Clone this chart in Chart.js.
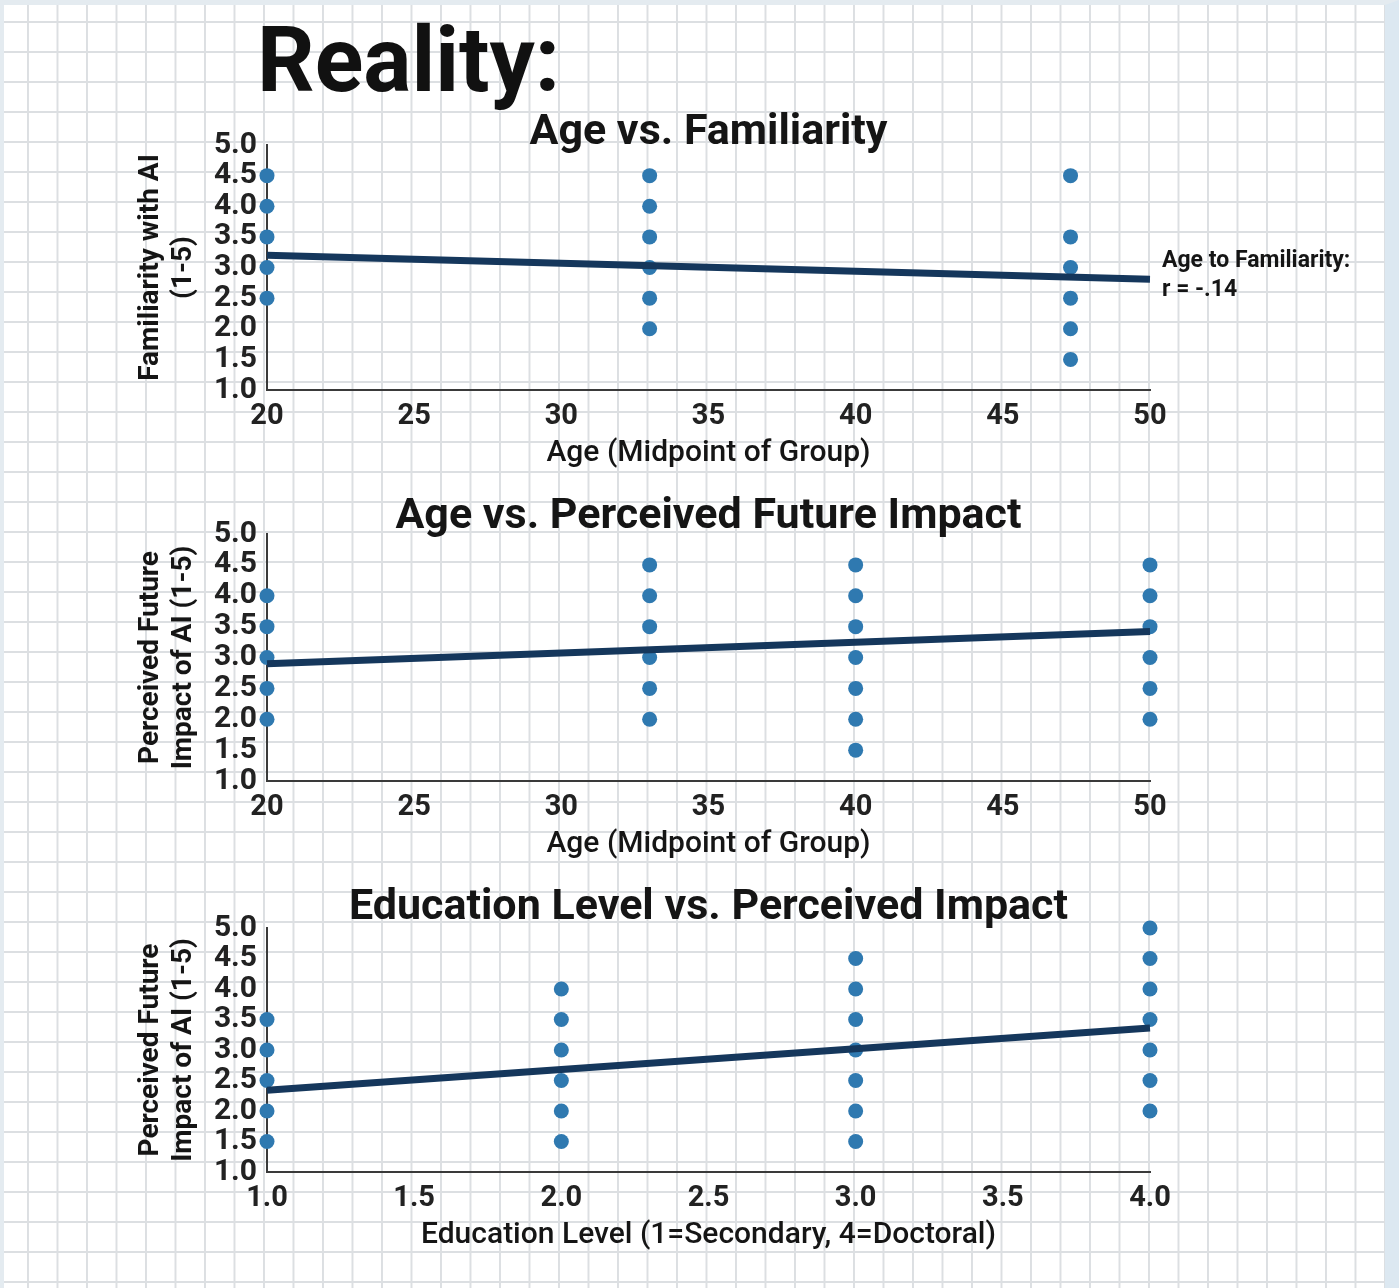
<!DOCTYPE html>
<html>
<head>
<meta charset="utf-8">
<script src="https://cdn.jsdelivr.net/npm/chart.js@4"></script>
<style>
  body { margin: 0; overflow: hidden; background: #fff; }
  #page {
    position: relative;
    width: 1399px;
    height: 1288px;
    background-color: #fff;
    background-image:
      linear-gradient(to right, #dcdfe2 2px, transparent 2px),
      linear-gradient(to bottom, #dcdfe2 2px, transparent 2px);
    background-size: 29.5px 30px;
    background-position: 27px 21px;
  }
  #frame {
    position: absolute; left: 0; top: 0; right: 0; bottom: 0;
    border-left: 4px solid #e4ebf0;
    border-top: 5px solid #e4ebf0;
    border-right: 14px solid #dce8f1;
    pointer-events: none;
  }
  #heading {
    position: absolute;
    left: 257px;
    top: 16px;
    font: 700 90px Roboto, sans-serif;
    line-height: 90px;
    color: #111;
  }
  canvas { position: absolute; left: 0; }
</style>
</head>
<body>
<div id="page">
  <div id="heading">Reality:</div>
  <canvas id="famChart" width="1399" height="380" style="top:100px"></canvas>
  <canvas id="impactChart" width="1399" height="380" style="top:489px"></canvas>
  <canvas id="eduChart" width="1399" height="380" style="top:883px"></canvas>
  <div id="frame"></div>
</div>
<script>
// Age vs. Familiarity
const famAge = [20, 20, 20, 20, 20, 33, 33, 33, 33, 33, 33, 47.3, 47.3, 47.3, 47.3, 47.3, 47.3];
const famScore = [4.5, 4.0, 3.5, 3.0, 2.5, 4.5, 4.0, 3.5, 3.0, 2.5, 2.0, 4.5, 3.5, 3.0, 2.5, 2.0, 1.5];
const famTrendX = [20, 50];
const famTrendY = [3.2, 2.81];
const famNote = ['Age to Familiarity:', 'r = -.14'];

// Age vs. Perceived Future Impact
const impAge = [20, 20, 20, 20, 20, 33, 33, 33, 33, 33, 33, 40, 40, 40, 40, 40, 40, 40, 50, 50, 50, 50, 50, 50];
const impScore = [4.0, 3.5, 3.0, 2.5, 2.0, 4.5, 4.0, 3.5, 3.0, 2.5, 2.0, 4.5, 4.0, 3.5, 3.0, 2.5, 2.0, 1.5, 4.5, 4.0, 3.5, 3.0, 2.5, 2.0];
const impTrendX = [20, 50];
const impTrendY = [2.9, 3.42];

// Education Level vs. Perceived Impact
const eduLevel = [1, 1, 1, 1, 1, 2, 2, 2, 2, 2, 2, 3, 3, 3, 3, 3, 3, 3, 4, 4, 4, 4, 4, 4, 4];
const eduScore = [3.5, 3.0, 2.5, 2.0, 1.5, 4.0, 3.5, 3.0, 2.5, 2.0, 1.5, 4.5, 4.0, 3.5, 3.0, 2.5, 2.0, 1.5, 5.0, 4.5, 4.0, 3.5, 3.0, 2.5, 2.0];
const eduTrendX = [1, 4];
const eduTrendY = [2.34, 3.36];

const ageTicks = { min: 20, max: 50, step: 5, decimals: 0 };
const eduTicks = { min: 1, max: 4, step: 0.5, decimals: 1 };
const scoreTicks = { min: 1, max: 5, step: 0.5, decimals: 1 };

const pointColor = '#2f79b0';
const lineColor = '#15375c';
const textColor = '#151515';
const fontFamily = 'Roboto, sans-serif';

function pairs(xs, ys) {
  return xs.map((x, i) => ({ x: x, y: ys[i] }));
}

function makeChart(id, cfg) {
  const ctx = document.getElementById(id).getContext('2d');
  return new Chart(ctx, {
    type: 'scatter',
    data: {
      datasets: [{
        data: pairs(cfg.trendX, cfg.trendY),
        showLine: true,
        borderColor: lineColor,
        borderWidth: 7,
        pointRadius: 0,
        pointHoverRadius: 0,
        clip: false
      }, {
        data: pairs(cfg.xs, cfg.ys),
        backgroundColor: pointColor,
        borderColor: pointColor,
        pointRadius: 7.5,
        pointBorderWidth: 0,
        clip: false
      }]
    },
    options: {
      responsive: false,
      animation: false,
      layout: { padding: { left: 120, right: 249, top: 0, bottom: cfg.padBottom } },
      scales: {
        x: {
          type: 'linear',
          min: cfg.xTicks.min,
          max: cfg.xTicks.max,
          grid: { display: false, drawTicks: false },
          border: { display: true, color: '#3a3a3a', width: 2 },
          ticks: {
            stepSize: cfg.xTicks.step,
            autoSkip: false,
            maxRotation: 0,
            padding: 9,
            color: '#222',
            font: { family: fontFamily, size: 29, weight: '700' },
            callback: v => v.toFixed(cfg.xTicks.decimals)
          },
          title: {
            display: true,
            text: cfg.xTitle,
            color: textColor,
            padding: { top: 0, bottom: -3 },
            font: { family: fontFamily, size: 30, weight: '500' }
          },
          afterFit: s => { s.height = 78; }
        },
        y: {
          min: scoreTicks.min,
          max: scoreTicks.max,
          grid: { display: false, drawTicks: false },
          border: { display: true, color: '#3a3a3a', width: 2 },
          ticks: {
            stepSize: scoreTicks.step,
            autoSkip: false,
            padding: 10,
            color: '#222',
            font: { family: fontFamily, size: 30, weight: '700', lineHeight: 1 },
            callback: v => v.toFixed(scoreTicks.decimals)
          },
          title: {
            display: true,
            text: cfg.yTitle,
            color: textColor,
            padding: { top: 14, bottom: 0 },
            font: { family: fontFamily, size: 28, weight: '700', lineHeight: 1.2 }
          },
          afterFit: s => { s.width = 147; }
        }
      },
      plugins: {
        legend: { display: false },
        tooltip: { enabled: false },
        title: {
          display: true,
          fullSize: false,
          text: cfg.title,
          color: textColor,
          padding: cfg.titlePad,
          font: { family: fontFamily, size: 43, weight: '700', lineHeight: 1 }
        }
      }
    },
    plugins: cfg.extra ? [cfg.extra] : []
  });
}

const rNote = {
  id: 'rNote',
  afterDatasetsDraw(chart) {
    const { ctx, chartArea, scales } = chart;
    const yEnd = scales.y.getPixelForValue(famTrendY[1]);
    ctx.save();
    ctx.font = '700 23px Roboto, sans-serif';
    ctx.fillStyle = textColor;
    ctx.textBaseline = 'middle';
    ctx.fillText(famNote[0], chartArea.right + 12, yEnd - 18);
    ctx.fillText(famNote[1], chartArea.right + 12, yEnd + 11);
    ctx.restore();
  }
};

makeChart('famChart', {
  xs: famAge, ys: famScore, trendX: famTrendX, trendY: famTrendY,
  xTicks: ageTicks,
  title: 'Age vs. Familiarity',
  titlePad: { top: 12, bottom: -10 },
  padBottom: 12,
  xTitle: 'Age (Midpoint of Group)',
  yTitle: ['Familiarity with AI', '(1-5)'],
  extra: rNote
});

makeChart('impactChart', {
  xs: impAge, ys: impScore, trendX: impTrendX, trendY: impTrendY,
  xTicks: ageTicks,
  title: 'Age vs. Perceived Future Impact',
  titlePad: { top: 7, bottom: -5 },
  padBottom: 10,
  xTitle: 'Age (Midpoint of Group)',
  yTitle: ['Perceived Future', 'Impact of AI (1-5)']
});

makeChart('eduChart', {
  xs: eduLevel, ys: eduScore, trendX: eduTrendX, trendY: eduTrendY,
  xTicks: eduTicks,
  title: 'Education Level vs. Perceived Impact',
  titlePad: { top: 4, bottom: -2 },
  padBottom: 13,
  xTitle: 'Education Level (1=Secondary, 4=Doctoral)',
  yTitle: ['Perceived Future', 'Impact of AI (1-5)']
});
</script>
</body>
</html>
